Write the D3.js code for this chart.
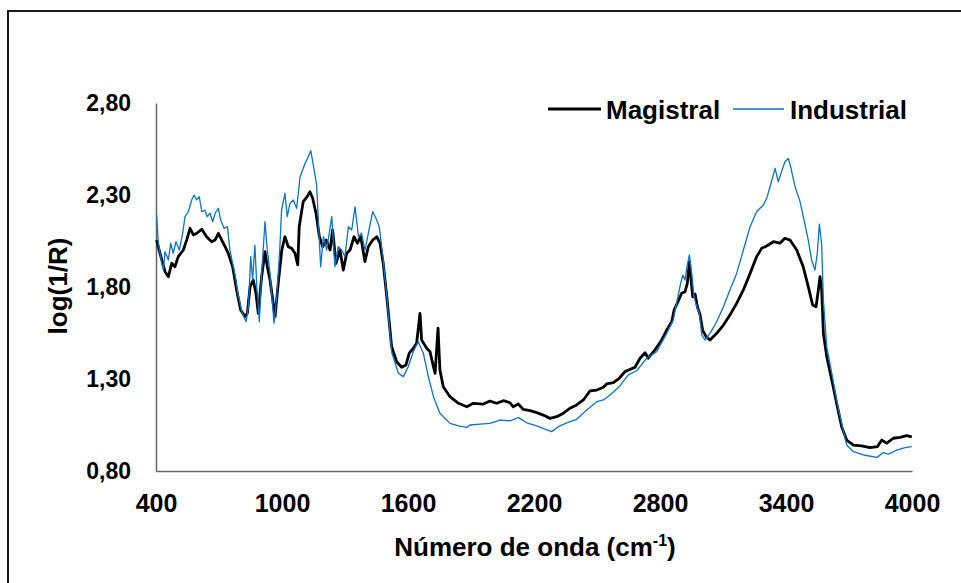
<!DOCTYPE html>
<html>
<head>
<meta charset="utf-8">
<script src="https://cdn.jsdelivr.net/npm/d3@7"></script>
<style>
  html, body { margin: 0; padding: 0; background: #fff; }
  svg { display: block; }
  text { font-family: "Liberation Sans", Arial, sans-serif; font-weight: bold; fill: #000; }
</style>
</head>
<body>
<svg id="chart" width="961" height="583"></svg>
<script>
// Spectrum: wavenumber (cm-1) and log(1/R)
const magistralWave = [403,419,443,459,475,490,506,530,546,562,578,594,618,641,665,681,697,713,729,744,765,784,803,824,835,848,863,876,887,903,919,930,943,967,982,999,1014,1030,1046,1062,1075,1082,1101,1120,1133,1146,1162,1178,1194,1210,1229,1241,1257,1276,1292,1308,1324,1343,1359,1375,1395,1411,1432,1451,1467,1482,1499,1522,1546,1570,1590,1606,1625,1641,1657,1665,1689,1705,1721,1729,1743,1752,1768,1800,1840,1880,1911,1959,1990,2022,2054,2086,2101,2125,2149,2181,2213,2244,2276,2308,2340,2371,2403,2435,2467,2499,2530,2546,2578,2606,2633,2681,2705,2729,2744,2776,2808,2832,2856,2867,2882,2903,2919,2930,2940,2948,2956,2967,2978,2991,3003,3019,3038,3070,3102,3133,3165,3197,3229,3260,3284,3308,3340,3371,3395,3419,3451,3482,3506,3527,3543,3554,3562,3570,3578,3594,3618,3641,3665,3689,3721,3760,3800,3835,3856,3880,3911,3943,3975,3999];
const magistralValue = [2.055,1.983,1.883,1.856,1.929,1.910,1.965,2.001,2.055,2.119,2.083,2.092,2.114,2.073,2.046,2.055,2.092,2.055,2.019,1.983,1.910,1.784,1.675,1.639,1.657,1.802,1.838,1.766,1.657,1.856,1.992,1.910,1.838,1.639,1.820,2.001,2.073,2.019,2.010,1.983,1.920,2.128,2.264,2.291,2.318,2.282,2.201,2.073,2.019,2.055,2.001,2.110,1.929,2.001,1.892,1.983,2.001,2.073,2.038,2.073,1.938,2.019,2.055,2.073,2.038,1.929,1.747,1.476,1.394,1.364,1.376,1.440,1.467,1.494,1.657,1.512,1.467,1.448,1.367,1.331,1.576,1.349,1.258,1.204,1.168,1.149,1.168,1.164,1.180,1.168,1.182,1.171,1.149,1.164,1.135,1.128,1.117,1.104,1.086,1.095,1.114,1.141,1.159,1.186,1.236,1.240,1.255,1.273,1.280,1.304,1.340,1.364,1.413,1.443,1.413,1.458,1.512,1.566,1.611,1.675,1.711,1.766,1.774,1.820,1.938,1.838,1.747,1.762,1.693,1.648,1.566,1.530,1.512,1.548,1.593,1.648,1.711,1.784,1.874,1.965,2.010,2.023,2.046,2.038,2.065,2.055,2.001,1.910,1.802,1.702,1.693,1.784,1.856,1.784,1.548,1.421,1.295,1.168,1.041,0.968,0.941,0.936,0.927,0.932,0.968,0.951,0.978,0.983,0.992,0.986];

const industrialWave = [403,411,427,435,443,459,470,482,495,511,527,538,554,570,581,594,606,618,633,644,657,670,682,697,708,724,740,752,768,781,787,808,829,840,851,860,871,880,892,903,919,930,943,962,975,990,998,1014,1025,1038,1054,1070,1086,1110,1125,1137,1149,1165,1173,1184,1197,1213,1237,1252,1268,1284,1300,1316,1332,1348,1364,1379,1395,1411,1432,1451,1463,1482,1499,1510,1522,1554,1578,1601,1625,1649,1673,1697,1721,1752,1800,1840,1880,1895,1943,1990,2038,2086,2126,2165,2213,2252,2284,2316,2356,2403,2451,2499,2530,2562,2606,2649,2689,2737,2784,2832,2863,2895,2908,2919,2930,2940,2951,2962,2975,2987,2999,3014,3038,3070,3102,3133,3165,3197,3229,3260,3292,3308,3324,3348,3363,3379,3395,3411,3422,3443,3467,3486,3506,3522,3538,3549,3559,3570,3578,3594,3618,3641,3665,3689,3721,3769,3833,3864,3888,3928,3967,3999];
const industrialValue = [2.191,2.038,1.929,1.892,1.992,1.947,2.038,1.983,2.046,2.001,2.092,2.182,2.209,2.273,2.300,2.273,2.291,2.209,2.218,2.182,2.201,2.155,2.201,2.228,2.164,2.119,2.128,2.001,1.910,1.838,1.784,1.666,1.611,1.693,1.965,1.838,2.028,1.802,1.611,1.874,2.155,2.001,1.874,1.603,1.747,2.019,2.218,2.309,2.182,2.255,2.273,2.228,2.399,2.472,2.508,2.541,2.463,2.354,2.164,1.910,2.073,2.001,2.182,1.910,2.019,2.001,1.965,2.128,2.110,2.236,2.073,2.092,2.001,2.092,2.209,2.164,2.128,1.947,1.747,1.600,1.447,1.331,1.313,1.367,1.448,1.503,1.440,1.313,1.204,1.114,1.059,1.045,1.037,1.050,1.055,1.059,1.077,1.073,1.090,1.062,1.045,1.027,1.014,1.041,1.062,1.081,1.132,1.177,1.186,1.213,1.258,1.322,1.345,1.413,1.448,1.548,1.621,1.802,1.865,1.838,1.920,1.974,1.874,1.747,1.693,1.657,1.539,1.512,1.548,1.611,1.693,1.784,1.874,2.001,2.128,2.209,2.246,2.282,2.345,2.445,2.372,2.427,2.481,2.499,2.454,2.345,2.264,2.164,2.055,1.947,1.892,1.983,2.142,2.028,1.729,1.476,1.331,1.186,1.059,0.941,0.905,0.887,0.874,0.900,0.892,0.914,0.927,0.932];

const xTicks = [400, 1000, 1600, 2200, 2800, 3400, 4000];
const yTicks = [0.80, 1.30, 1.80, 2.30, 2.80];
const seriesNames = ["Magistral", "Industrial"];
const seriesColors = ["#000000", "#0a74c8"];

const svg = d3.select("#chart");

// outer chart frame
svg.append("rect")
  .attr("x", 8).attr("y", 11)
  .attr("width", 1000).attr("height", 1000)
  .attr("fill", "none").attr("stroke", "#1a1a1a").attr("stroke-width", 2);

const x = d3.scaleLinear().domain([400, 4000]).range([156, 912]);
const y = d3.scaleLinear().domain([0.80, 2.80]).range([471, 103]);

const fmt = v => d3.format(".2f")(v).replace(".", ",");

// axes lines (no tick marks)
const xAxis = d3.axisBottom(x).tickValues(xTicks).tickSize(0).tickFormat(d3.format("d"));
const gx = svg.append("g").attr("transform", "translate(0,471)").call(xAxis);
gx.select(".domain").attr("stroke", "#666").attr("stroke-width", 1.5);
gx.selectAll("text").attr("dy", null).attr("y", 41)
  .style("font-size", "25px").attr("fill", "#000");

const yAxis = d3.axisLeft(y).tickValues(yTicks).tickSize(0).tickFormat(fmt);
const gy = svg.append("g").attr("transform", "translate(156,0)").call(yAxis);
gy.select(".domain").attr("stroke", "#666").attr("stroke-width", 1.5);
gy.selectAll("text").attr("x", -25).attr("dy", "0.34em")
  .style("font-size", "23px").attr("fill", "#000");

// lines
const line = d3.line().x(d => x(d[0])).y(d => y(d[1]));
const magData = d3.zip(magistralWave, magistralValue);
const indData = d3.zip(industrialWave, industrialValue);

svg.append("path").datum(magData)
  .attr("d", line).attr("fill", "none")
  .attr("stroke", seriesColors[0]).attr("stroke-width", 2.8)
  .attr("stroke-linejoin", "round");
svg.append("path").datum(indData)
  .attr("d", line).attr("fill", "none")
  .attr("stroke", seriesColors[1]).attr("stroke-width", 1.3)
  .attr("stroke-linejoin", "round");

// axis titles
const xt = svg.append("text").attr("x", 535).attr("y", 556)
  .attr("text-anchor", "middle").style("font-size", "26px");
xt.append("tspan").text("Número de onda (cm");
xt.append("tspan").attr("dy", -10).style("font-size", "16px").text("-1");
xt.append("tspan").attr("dy", 10).text(")");

svg.append("text")
  .attr("transform", "translate(67,286) rotate(-90)")
  .attr("text-anchor", "middle").style("font-size", "26px")
  .text("log(1/R)");

// legend
const legend = [
  { x1: 548, x2: 601, tx: 606, w: 2.8 },
  { x1: 733, x2: 784, tx: 790, w: 1.3 }
];
legend.forEach((l, i) => {
  svg.append("line").attr("x1", l.x1).attr("x2", l.x2).attr("y1", 109).attr("y2", 109)
    .attr("stroke", seriesColors[i]).attr("stroke-width", l.w);
  svg.append("text").attr("x", l.tx).attr("y", 119).style("font-size", "26px")
    .text(seriesNames[i]);
});
</script>
</body>
</html>
